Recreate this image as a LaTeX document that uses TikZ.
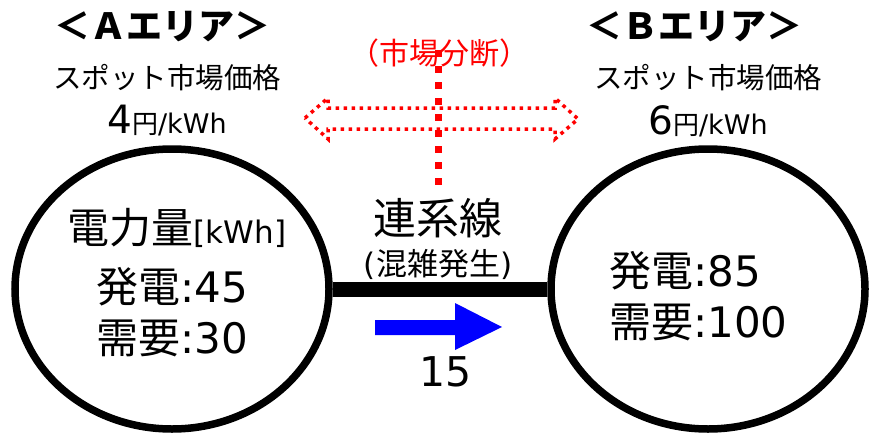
\documentclass[tikz,border=0pt]{standalone}
\usepackage{fontspec}
\setmainfont{DejaVu Sans}
\newfontfamily\jp{Noto Sans CJK JP}
\usetikzlibrary{shapes.geometric}
\newcommand{\fs}[1]{\fontsize{#1}{#1}\selectfont}
\tikzset{
  area/.style={ellipse, draw=black, line width=7.5pt, minimum width=314pt, minimum height=280pt, inner sep=0pt},
  lbl/.style={inner sep=0pt, text=black},
  tieline/.style={line width=15pt, draw=black},
  flow/.style={fill=blue},
  split/.style={draw=red, line width=3.5pt, dash pattern=on 3.5pt off 4.5pt},
  splitv/.style={draw=red, line width=7pt, dash pattern=on 7pt off 9pt},
}
\begin{document}
\begin{tikzpicture}[x=1pt,y=-1pt]
\useasboundingbox (0,0) rectangle (875,439);
% areas
\node[area] (A) at (172,289) {};
\node[area] (B) at (708,289) {};
\draw[tieline] (A.east) -- (B.west);
% headings
\node[lbl, font=\jp\bfseries\fs{36}] (ha) at (162,27) {＜Ａエリア＞};
\node[lbl, font=\jp\bfseries\fs{36}] (hb) at (694,27) {＜Ｂエリア＞};
\node[lbl, font=\jp\fs{28.5}] (pa) at (167,78) {スポット市場価格};
\node[lbl, font=\jp\fs{28.5}] (pb) at (708,78) {スポット市場価格};
\node[lbl] (va) at (167,121) {\fs{39}4{\jp\fs{26}円}\fs{27}/kWh};
\node[lbl] (vb) at (708,121) {\fs{39}6{\jp\fs{26}円}\fs{27}/kWh};
% left area contents
\node[lbl] (qa) at (177,228) {{\jp\fs{42}電力量}\fs{31}[kWh]};
\node[lbl, font=\fs{42}] (ga) at (172,287) {{\jp 発電}:45};
\node[lbl, font=\fs{42}] (da) at (172,338) {{\jp 需要}:30};
% right area contents
\node[lbl, font=\fs{42}, anchor=west] (gb) at (609,271) {{\jp 発電}:85};
\node[lbl, font=\fs{42}, anchor=west] (db) at (609,322) {{\jp 需要}:100};
% tie line labels
\node[lbl, font=\jp\fs{43}] (tl) at (438,218) {連系線};
\node[lbl, font=\fs{31}] (cg) at (438,264) {({\jp 混雑発生})};
\node[lbl, font=\fs{41}] (fl) at (446,372) {15};
% flow arrow
\fill[flow] (375,320) -- (455,320) -- (455,303) -- (502,327) -- (455,350) -- (455,335) -- (375,335) -- cycle;
% market split
\node[lbl, font=\jp\fs{30}, text=red] (ms) at (439,53) {（市場分断）};
\draw[split] (305,118) -- (328,98) -- (328,108) -- (555,108) -- (555,98) -- (578,119) -- (555,139) -- (555,129) -- (328,129) -- (328,139) -- cycle;
\draw[splitv] (438,50) -- (438,192);
\end{tikzpicture}
\end{document}
